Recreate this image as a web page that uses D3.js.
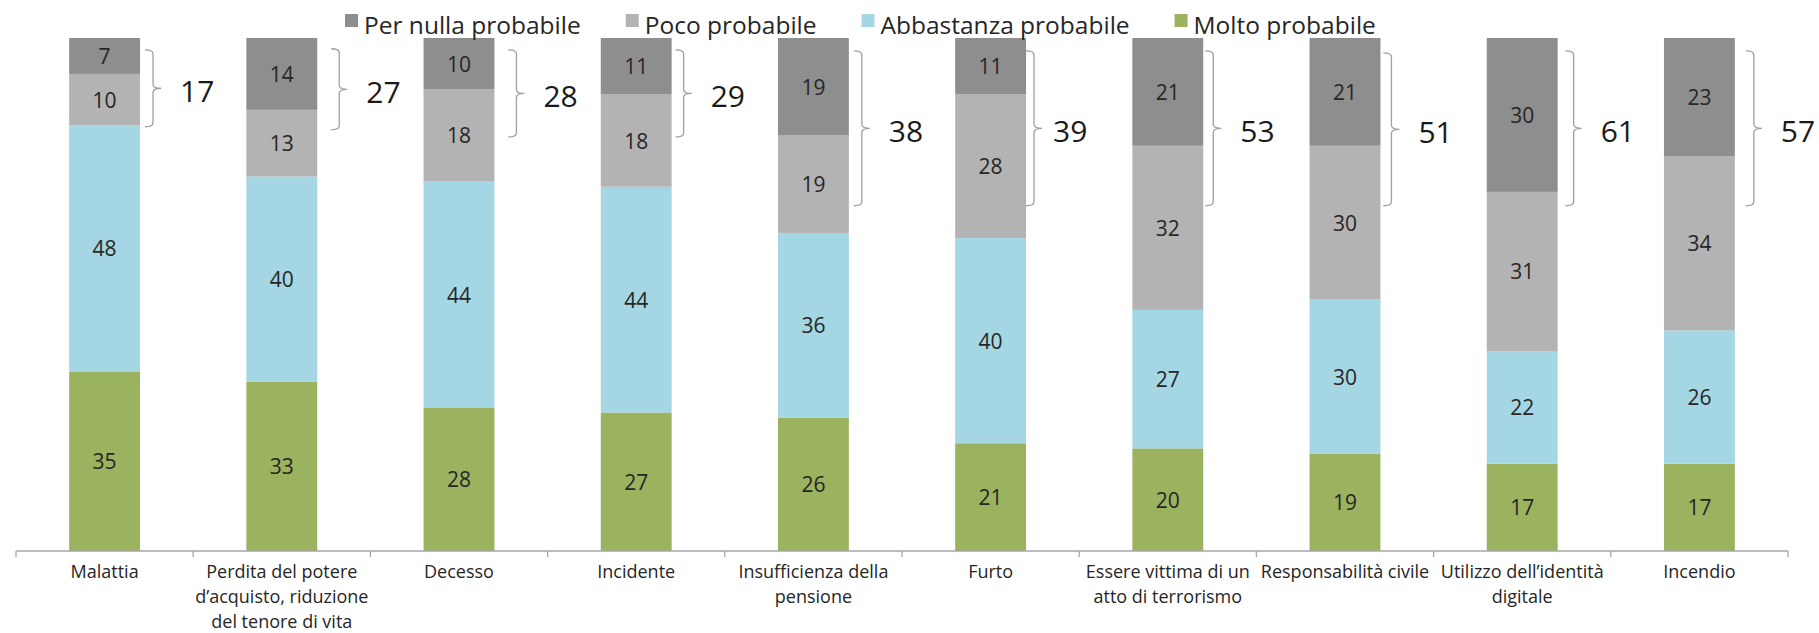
<!DOCTYPE html>
<html>
<head>
<meta charset="utf-8">
<script src="https://cdn.jsdelivr.net/npm/d3@7"></script>
<style>
  html, body { margin: 0; padding: 0; background: #ffffff; }
  svg { display: block; }
  text { font-family: "Open Sans", "Noto Sans", sans-serif; }
</style>
</head>
<body>
<svg id="chart" width="1819" height="633"></svg>
<script>
// ---- data ----
const categories = [
  "Malattia",
  "Perdita del potere\nd’acquisto, riduzione\ndel tenore di vita",
  "Decesso",
  "Incidente",
  "Insufficienza della\npensione",
  "Furto",
  "Essere vittima di un\natto di terrorismo",
  "Responsabilità civile",
  "Utilizzo dell’identità\ndigitale",
  "Incendio"
];
const seriesNames = ["Per nulla probabile", "Poco probabile", "Abbastanza probabile", "Molto probabile"];
const perNulla   = [7, 14, 10, 11, 19, 11, 21, 21, 30, 23];
const poco       = [10, 13, 18, 18, 19, 28, 32, 30, 31, 34];
const abbastanza = [48, 40, 44, 44, 36, 40, 27, 30, 22, 26];
const molto      = [35, 33, 28, 27, 26, 21, 20, 19, 17, 17];
// brace annotation span (in % units of the value axis)
const braceTop    = [97.7, 97.9, 97.7, 97.7, 97.5, 97.5, 97.5, 97.1, 97.5, 97.5];
const braceBottom = [82.7, 82.1, 80.7, 80.7, 67.3, 67.3, 67.3, 67.3, 67.3, 67.3];

// ---- styles / layout ----
const colors = ["#8e8e8e", "#b3b3b3", "#a4d6e4", "#9bb25e"];
const braceGap = [5, 14, 14, 4, 5, 0, 2, 3, 8, 11];        // px between bar edge and brace
const braceLabelGap = [19, 19, 19, 19, 19, 11, 19, 19, 19, 19]; // px between brace tip and total

const svg = d3.select("#chart");
const plotLeft = 16, plotRight = 1788, plotBottom = 551, plotTop = 38;

const x = d3.scaleBand().domain(categories).range([plotLeft, plotRight])
  .paddingInner(0.6).paddingOuter(0.3);
const y = d3.scaleLinear().domain([0, 100]).range([plotBottom, plotTop]);

const rows = categories.map((c, i) => ({
  cat: c,
  "Molto probabile": molto[i],
  "Abbastanza probabile": abbastanza[i],
  "Poco probabile": poco[i],
  "Per nulla probabile": perNulla[i]
}));
const stackKeys = ["Molto probabile", "Abbastanza probabile", "Poco probabile", "Per nulla probabile"];
const stacked = d3.stack().keys(stackKeys)(rows);
const color = d3.scaleOrdinal().domain(seriesNames).range(colors);

// bars
const layers = svg.append("g").selectAll("g").data(stacked).join("g")
  .attr("fill", d => color(d.key));
layers.selectAll("rect").data(d => d).join("rect")
  .attr("x", d => x(d.data.cat))
  .attr("width", x.bandwidth())
  .attr("y", d => y(d[1]))
  .attr("height", d => y(d[0]) - y(d[1]));

// value labels
const labG = svg.append("g");
stacked.forEach(layer => {
  labG.selectAll(null).data(layer).join("text")
    .attr("x", d => x(d.data.cat) + x.bandwidth() / 2)
    .attr("y", d => (y(d[0]) + y(d[1])) / 2)
    .attr("text-anchor", "middle")
    .attr("dominant-baseline", "central")
    .attr("font-size", 21)
    .attr("fill", "#262626")
    .text(d => d[1] - d[0]);
});

// axis
const axisG = svg.append("g").attr("transform", `translate(0,${plotBottom})`)
  .call(d3.axisBottom(x).tickSize(0).tickPadding(0));
axisG.select(".domain").remove();
axisG.append("line").attr("x1", plotLeft).attr("x2", plotRight).attr("y1", 0).attr("y2", 0)
  .attr("stroke", "#a6a6a6").attr("stroke-width", 1.3);
const bounds = d3.range(categories.length + 1).map(i => plotLeft + i * x.step());
axisG.selectAll(".bnd").data(bounds).join("line").attr("class", "bnd")
  .attr("x1", d => d).attr("x2", d => d).attr("y1", 0).attr("y2", 6)
  .attr("stroke", "#a6a6a6").attr("stroke-width", 1.3);
axisG.selectAll(".tick text").each(function(d) {
  const t = d3.select(this);
  t.text(null).attr("y", 0).attr("dy", null)
    .attr("font-size", 18).attr("fill", "#262626");
  d.split("\n").forEach((line, k) => {
    t.append("tspan").attr("x", 0).attr("y", 27 + k * 25).text(line);
  });
});

// braces + totals
const braceG = svg.append("g");
categories.forEach((c, i) => {
  const x0 = x(c) + x.bandwidth() + braceGap[i], x1 = x0 + 8, x2 = x1 + 8;
  const yt = y(braceTop[i]), yb = y(braceBottom[i]), ym = (yt + yb) / 2;
  const p = d3.path();
  p.moveTo(x0, yt);
  p.quadraticCurveTo(x1, yt, x1, yt + 4);
  p.lineTo(x1, ym - 4);
  p.quadraticCurveTo(x1, ym, x2, ym);
  p.quadraticCurveTo(x1, ym, x1, ym + 4);
  p.lineTo(x1, yb - 4);
  p.quadraticCurveTo(x1, yb, x0, yb);
  braceG.append("path").attr("d", p.toString())
    .attr("fill", "none").attr("stroke", "#a0a0a0").attr("stroke-width", 1.3);
  braceG.append("text")
    .attr("x", x2 + braceLabelGap[i]).attr("y", ym + 2)
    .attr("dominant-baseline", "central")
    .attr("font-size", 30).attr("fill", "#1a1a1a")
    .text(perNulla[i] + poco[i]);
});

// legend
const legG = svg.append("g");
let lx = 345;
seriesNames.forEach((name, i) => {
  legG.append("rect").attr("x", lx).attr("y", 14).attr("width", 13).attr("height", 13)
    .attr("fill", colors[i]);
  const t = legG.append("text").attr("x", lx + 19).attr("y", 34)
    .attr("font-size", 24.5).attr("fill", "#262626").text(name);
  lx = lx + 19 + t.node().getComputedTextLength() + 45;
});
</script>
</body>
</html>
